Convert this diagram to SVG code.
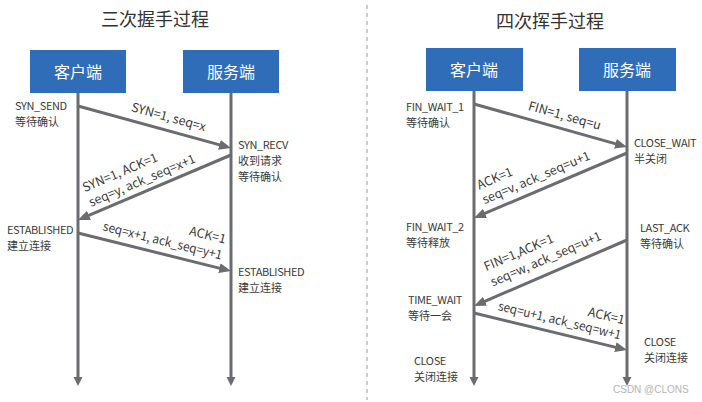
<svg xmlns="http://www.w3.org/2000/svg" width="702" height="402" viewBox="0 0 702 402">
<style>
.t{font-family:"Noto Sans CJK SC","Noto Sans","Liberation Sans",sans-serif;fill:#3a3a3a}
.ttl{font-size:18px;text-anchor:middle;fill:#333}
.st{font-size:11px}
.la{letter-spacing:-0.4px}
.cn{letter-spacing:0}
.lbl{font-size:12.5px}
.box{fill:#2f6db9}
.bt{font-size:16px;fill:#fff;text-anchor:middle}
.life{stroke:#6b6c70;stroke-width:3;fill:none;marker-end:url(#lh)}
.msg{stroke:#6b6c70;stroke-width:3;fill:none;marker-end:url(#mh)}
.wm{font-family:"Liberation Sans",sans-serif;font-size:10px;fill:#b4b4b4}
</style>
<defs>
<marker id="lh" markerUnits="userSpaceOnUse" markerWidth="10" markerHeight="10" refX="5" refY="4.5" orient="auto"><path d="M0,0 L9,4.5 L0,9 z" fill="#6b6c70"/></marker>
<marker id="mh" markerUnits="userSpaceOnUse" markerWidth="13" markerHeight="11" refX="6" refY="5" orient="auto"><path d="M0,0 L12,5 L0,10 z" fill="#6b6c70"/></marker>
</defs>
<rect width="702" height="402" fill="#fff"/>
<line x1="367" y1="5" x2="367" y2="400" stroke="#9a9a9a" stroke-width="1" stroke-dasharray="4,4"/>

<text class="t ttl" x="155" y="26">三次握手过程</text>
<text class="t ttl" x="550" y="28">四次挥手过程</text>

<g id="left-client"><rect class="box" x="30" y="50" width="96" height="43"/><text class="t bt" x="78" y="77.5">客户端</text></g>
<g id="left-server"><rect class="box" x="183" y="50" width="96" height="43"/><text class="t bt" x="231" y="77.5">服务端</text></g>
<g id="right-client"><rect class="box" x="426" y="48" width="97" height="43"/><text class="t bt" x="474" y="75.5">客户端</text></g>
<g id="right-server"><rect class="box" x="579" y="48" width="97" height="43"/><text class="t bt" x="627" y="75.5">服务端</text></g>

<g id="connectors">
<line class="life" x1="78" y1="93" x2="78" y2="382"/>
<line class="life" x1="231" y1="93" x2="231" y2="382"/>
<line class="life" x1="474" y1="91" x2="474" y2="382"/>
<line class="life" x1="627" y1="91" x2="627" y2="382"/>
<line class="msg" x1="78" y1="106" x2="225.2" y2="146.4"/>
<line class="msg" x1="231" y1="155" x2="83.5" y2="217.7"/>
<line class="msg" x1="78" y1="233" x2="225.2" y2="269.6"/>
<line class="msg" x1="474" y1="104" x2="621.2" y2="145.4"/>
<line class="msg" x1="627" y1="153" x2="479.5" y2="215.7"/>
<line class="msg" x1="627" y1="240" x2="479.5" y2="303.6"/>
<line class="msg" x1="474" y1="313" x2="621.2" y2="348.6"/>
</g>

<g id="msg-labels" class="t lbl">
<g transform="translate(78,106) rotate(15.35)"><text x="52" y="-9">SYN=1, seq=x</text></g>
<g transform="translate(78,220) rotate(-23.02)"><text x="17" y="-23">SYN=1, ACK=1<tspan x="17" dy="16">seq=y, ack_seq=x+1</tspan></text></g>
<g transform="translate(78,233) rotate(13.95)"><text x="145" y="-25" text-anchor="end">ACK=1</text><text x="23" y="-8.5" textLength="122" lengthAdjust="spacingAndGlyphs">seq=x+1, ack_seq=y+1</text></g>
<g transform="translate(474,104) rotate(15.7)"><text x="53" y="-9">FIN=1, seq=u</text></g>
<g transform="translate(474,218) rotate(-23.02)"><text x="16" y="-24">ACK=1<tspan x="15" dy="15.5">seq=v, ack_seq=u+1</tspan></text></g>
<g transform="translate(474,306) rotate(-23.33)"><text x="25" y="-27">FIN=1,ACK=1<tspan x="25" dy="16.5">seq=w, ack_seq=u+1</tspan></text></g>
<g transform="translate(474,313) rotate(13.59)"><text x="148" y="-24" text-anchor="end">ACK=1</text><text x="22" y="-8.5" textLength="126" lengthAdjust="spacingAndGlyphs">seq=u+1, ack_seq=w+1</text></g>
</g>

<g id="states" class="t st">
<text x="15" y="110"><tspan class="la">SYN_SEND</tspan><tspan class="cn" x="15" dy="16">等待确认</tspan></text>
<text x="238" y="149"><tspan class="la">SYN_RECV</tspan><tspan class="cn" x="238" dy="16">收到请求</tspan><tspan class="cn" x="238" dy="16">等待确认</tspan></text>
<text x="7" y="234"><tspan class="la">ESTABLISHED</tspan><tspan class="cn" x="7" dy="16">建立连接</tspan></text>
<text x="238" y="275.5"><tspan class="la">ESTABLISHED</tspan><tspan class="cn" x="238" dy="16">建立连接</tspan></text>

<text x="406" y="110.5"><tspan class="la">FIN_WAIT_1</tspan><tspan class="cn" x="406" dy="16">等待确认</tspan></text>
<text x="634" y="147"><tspan class="la">CLOSE_WAIT</tspan><tspan class="cn" x="634" dy="16">半关闭</tspan></text>
<text x="406" y="230.5"><tspan class="la">FIN_WAIT_2</tspan><tspan class="cn" x="406" dy="16">等待释放</tspan></text>
<text x="640" y="232"><tspan class="la">LAST_ACK</tspan><tspan class="cn" x="640" dy="16">等待确认</tspan></text>
<text x="408" y="304"><tspan class="la">TIME_WAIT</tspan><tspan class="cn" x="408" dy="16">等待一会</tspan></text>
<text x="644" y="346"><tspan class="la">CLOSE</tspan><tspan class="cn" x="644" dy="16">关闭连接</tspan></text>
<text x="414" y="365"><tspan class="la">CLOSE</tspan><tspan class="cn" x="414" dy="16">关闭连接</tspan></text>
</g>

<text class="wm" x="613" y="393">CSDN @CLONS</text>
</svg>
